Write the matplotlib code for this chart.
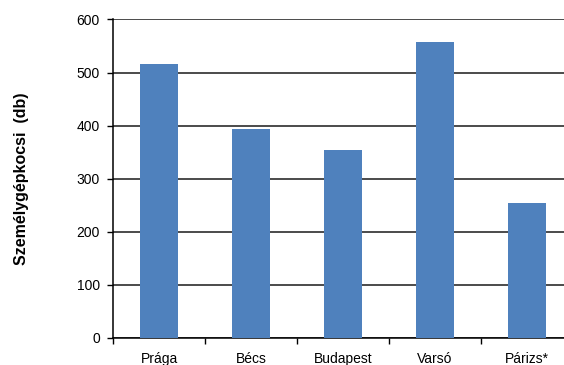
import matplotlib
matplotlib.use("Agg")
import matplotlib.pyplot as plt
import numpy as np

plt.rcParams['font.family'] = ['Liberation Sans', 'DejaVu Sans']

# car counts per city
cities = ['Prága', 'Bécs', 'Budapest', 'Varsó', 'Párizs*']
cars = [516, 394, 354, 557, 254]
yticks = [0, 100, 200, 300, 400, 500, 600]

fig = plt.figure(figsize=(5.64, 3.65), dpi=100)
ax = fig.add_axes([0.2004, 0.074, 0.8156, 0.8726])

x = np.arange(len(cities))
ax.bar(x, cars, width=0.41, color='#4F81BD', zorder=3)

ax.set_xlim(-0.5, len(cities) - 0.5)
ax.set_ylim(0, 600)
ax.set_yticks(yticks)
ax.yaxis.grid(True, color='#1a1a1a', linewidth=1.1, zorder=1)

ax.set_xticks(x)
ax.set_xticklabels(cities, fontsize=10)
ax.set_xticks(np.arange(len(cities)) - 0.5, minor=True)
ax.tick_params(axis='x', which='major', length=0, pad=10)
ax.tick_params(axis='x', which='minor', length=4, width=1, color='black')
ax.tick_params(axis='y', length=4, width=1, pad=5.5, labelsize=10)

for side in ['top', 'right']:
    ax.spines[side].set_visible(False)
ax.spines['left'].set_linewidth(1.1)
ax.spines['bottom'].set_linewidth(1.1)

fig.text(0.038, (0.074 + 0.9466) / 2, 'Személygépkocsi  (db)', rotation=90,
         ha='center', va='center', fontsize=11.5, fontweight='bold')

fig.savefig('out.png', dpi=100)
